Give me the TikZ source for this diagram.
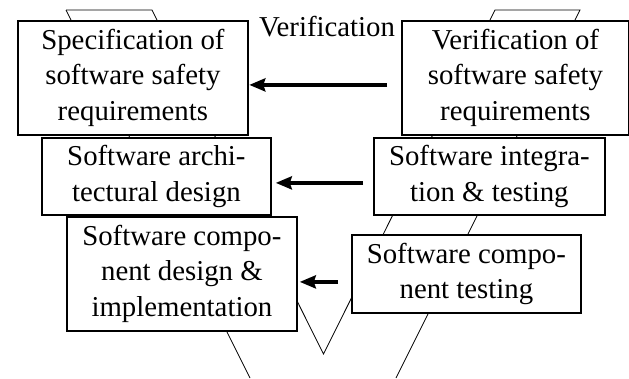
\documentclass[tikz,border=0pt]{standalone}
\usepackage{fontspec}
\setmainfont{Liberation Serif}
\usetikzlibrary{arrows.meta,calc}
\begin{document}
\begin{tikzpicture}[x=1pt,y=-1pt,
  stage/.style={draw, line width=1.8pt, fill=white, anchor=north west,
    inner sep=0pt, align=center,
    font=\fontsize{28.8}{35.5}\selectfont},
  vline/.style={line width=0.8pt},
  back/.style={line width=3.4pt,
    -{Stealth[length=16pt,width=13pt,inset=2pt]}},
  lbl/.style={font=\fontsize{28.8}{34}\selectfont, inner sep=0pt}]
\useasboundingbox (0,0) rectangle (629,378);

% the V of the life cycle, drawn behind the stages
\draw[vline] (66,10) -- (152,10) -- (323.5,354) -- (495,10) -- (580,10) -- (396,378);
\draw[vline] (66,10) -- (250,378);

% development stages (left) and verification stages (right)
\node[stage, minimum width=230pt, minimum height=114pt] (spec) at (17,20)
  {Specification of\\software safety\\requirements};
\node[stage, minimum width=229pt, minimum height=77pt] (arch) at (41,137)
  {Software archi-\\tectural design};
\node[stage, minimum width=230pt, minimum height=114pt] (compdes) at (66,216)
  {Software compo-\\nent design \&\\implementation};

\node[stage, minimum width=227pt, minimum height=114pt] (verreq) at (401,20)
  {Verification of\\software safety\\requirements};
\node[stage, minimum width=231pt, minimum height=77pt] (integ) at (373,137)
  {Software integra-\\tion \& testing};
\node[stage, minimum width=229pt, minimum height=78pt] (comptest) at (351,234)
  {Software compo-\\nent testing};

\node[lbl, anchor=base] (verlbl) at (327,36) {Verification};

% feedback from each verification stage to its development stage
\draw[back, shorten <=14pt, shorten >=0.5pt]
  ($(verreq.west)+(0,7)$) -- ($(spec.east)+(0,7)$);
\draw[back, shorten <=10pt, shorten >=4pt]
  ($(integ.west)+(0,6.5)$) -- ($(arch.east)+(0,6.5)$);
\draw[back, shorten <=13pt, shorten >=2pt]
  ($(comptest.west)+(0,8)$) -- ($(compdes.east)+(0,8)$);
\end{tikzpicture}
\end{document}
